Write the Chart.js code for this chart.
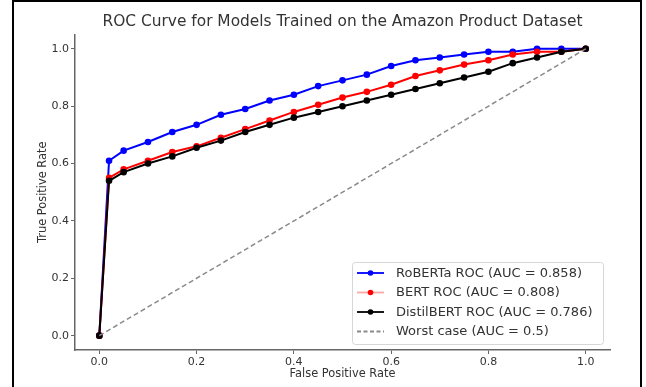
<!DOCTYPE html>
<html>
<head>
<meta charset="utf-8">
<script src="https://cdn.jsdelivr.net/npm/chart.js@4"></script>
<style>
  html, body { margin: 0; padding: 0; background: #fff; }
  #wrap { position: relative; width: 646px; height: 387px; overflow: hidden; }
  #frame { position: absolute; left: 12px; top: 0; width: 626px; height: 400px;
           border: 2px solid #000; border-bottom: none; pointer-events: none; }
  canvas { position: absolute; left: 0; top: 0; }
</style>
</head>
<body>
<div id="wrap">
  <canvas id="roc" width="646" height="387"></canvas>
  <div id="frame"></div>
</div>
<script>
// false positive rate shared by the three models
const fpr = [0, 0.02, 0.05, 0.1, 0.15, 0.2, 0.25, 0.3, 0.35, 0.4, 0.45, 0.5,
             0.55, 0.6, 0.65, 0.7, 0.75, 0.8, 0.85, 0.9, 0.95, 1.0];
const robertaTpr = [0, 0.61, 0.645, 0.675, 0.71, 0.735, 0.77, 0.79, 0.82, 0.84, 0.87,
                    0.89, 0.91, 0.94, 0.96, 0.97, 0.98, 0.99, 0.99, 1.0, 1.0, 1.0];
const bertTpr = [0, 0.55, 0.58, 0.61, 0.64, 0.66, 0.69, 0.72, 0.75, 0.78, 0.805,
                 0.83, 0.85, 0.875, 0.905, 0.925, 0.945, 0.96, 0.98, 0.99, 0.99, 1.0];
const distilTpr = [0, 0.54, 0.57, 0.6, 0.625, 0.655, 0.68, 0.71, 0.735, 0.76, 0.78,
                   0.8, 0.82, 0.84, 0.86, 0.88, 0.9, 0.92, 0.95, 0.97, 0.99, 1.0];
const worstX = [0, 1];
const worstY = [0, 1];
const labels = ["RoBERTa ROC (AUC = 0.858)", "BERT ROC (AUC = 0.808)",
                "DistilBERT ROC (AUC = 0.786)", "Worst case (AUC = 0.5)"];
const tickValues = [0, 0.2, 0.4, 0.6, 0.8, 1.0];

const pts = (xs, ys) => xs.map((x, i) => ({ x: x, y: ys[i] }));
const FONT = "'DejaVu Sans', sans-serif";
const TXT = "#333";

function curve(label, data, color, order) {
  return {
    label, data, order,
    borderColor: color, backgroundColor: color,
    borderWidth: 2, pointRadius: 3.3, pointHoverRadius: 3.3,
    pointBorderWidth: 0, tension: 0, fill: false
  };
}

// legend drawn inside the plot, lower right
const boxLegend = {
  id: "boxLegend",
  afterDraw(chart) {
    const ctx = chart.ctx;
    const x0 = 352.5, y0 = 262.5, w = 251, h = 82;
    ctx.save();
    ctx.beginPath();
    ctx.roundRect(x0, y0, w, h, 3);
    ctx.fillStyle = "rgba(255,255,255,0.85)";
    ctx.fill();
    ctx.strokeStyle = "#d6d6d6";
    ctx.lineWidth = 1;
    ctx.stroke();
    const rows = [273, 292.5, 312, 331.5];
    const styles = [
      { line: "#0000ff", dot: "#0000ff" },
      { line: "rgba(255,0,0,0.35)", dot: "#ff0000" },
      { line: "#000000", dot: "#000000" },
      { line: "#8a8a8a", dot: null, dash: [4, 2.5] }
    ];
    ctx.font = "13px " + FONT;
    ctx.textBaseline = "middle";
    rows.forEach((y, i) => {
      const s = styles[i];
      ctx.beginPath();
      ctx.setLineDash(s.dash || []);
      ctx.strokeStyle = s.line;
      ctx.lineWidth = 1.8;
      ctx.moveTo(357, y);
      ctx.lineTo(384, y);
      ctx.stroke();
      ctx.setLineDash([]);
      if (s.dot) {
        ctx.beginPath();
        ctx.arc(370.5, y, 2.8, 0, Math.PI * 2);
        ctx.fillStyle = s.dot;
        ctx.fill();
      }
      ctx.fillStyle = TXT;
      ctx.fillText(chart.data.datasets[i].label, 396, y + 0.5);
    });
    ctx.restore();
  }
};

new Chart(document.getElementById("roc"), {
  type: "line",
  data: {
    datasets: [
      curve(labels[0], pts(fpr, robertaTpr), "#0000ff", 4),
      curve(labels[1], pts(fpr, bertTpr), "#ff0000", 3),
      curve(labels[2], pts(fpr, distilTpr), "#000000", 2),
      {
        label: labels[3], data: pts(worstX, worstY), order: 1,
        borderColor: "#8a8a8a", borderWidth: 1.5, borderDash: [5, 3],
        pointRadius: 0, fill: false
      }
    ]
  },
  options: {
    responsive: false,
    animation: false,
    layout: { padding: { left: 0, right: 36, top: 0, bottom: 0 } },
    plugins: {
      legend: { display: false },
      tooltip: { enabled: false },
      title: {
        display: true,
        fullSize: false,
        text: "ROC Curve for Models Trained on the Amazon Product Dataset",
        color: TXT,
        font: { family: FONT, size: 15.4, weight: "normal" },
        padding: { top: 13, bottom: 3 }
      }
    },
    scales: {
      x: {
        type: "linear", min: -0.05, max: 1.05,
        afterBuildTicks: s => { s.ticks = tickValues.map(v => ({ value: v })); },
        afterFit: s => { s.height = 37; },
        grid: { drawOnChartArea: false, drawTicks: true, tickLength: 4, color: "#666" },
        border: { color: "#666", width: 1.5 },
        ticks: { color: TXT, padding: 2, font: { family: FONT, size: 11 },
                 callback: v => v.toFixed(1) },
        title: { display: true, text: "False Positive Rate", color: TXT,
                 font: { family: FONT, size: 11.4 }, padding: { top: 0, bottom: 6 } }
      },
      y: {
        type: "linear", min: -0.05, max: 1.05,
        afterBuildTicks: s => { s.ticks = tickValues.map(v => ({ value: v })); },
        afterFit: s => { s.width = 75; },
        grid: { drawOnChartArea: false, drawTicks: true, tickLength: 4, color: "#666" },
        border: { color: "#666", width: 1.5 },
        ticks: { color: TXT, padding: 2, font: { family: FONT, size: 11 },
                 callback: v => v.toFixed(1) },
        title: { display: true, text: "True Positive Rate", color: TXT,
                 font: { family: FONT, size: 11.4 }, padding: { top: 36, bottom: 0 } }
      }
    }
  },
  plugins: [boxLegend]
});
</script>
</body>
</html>
